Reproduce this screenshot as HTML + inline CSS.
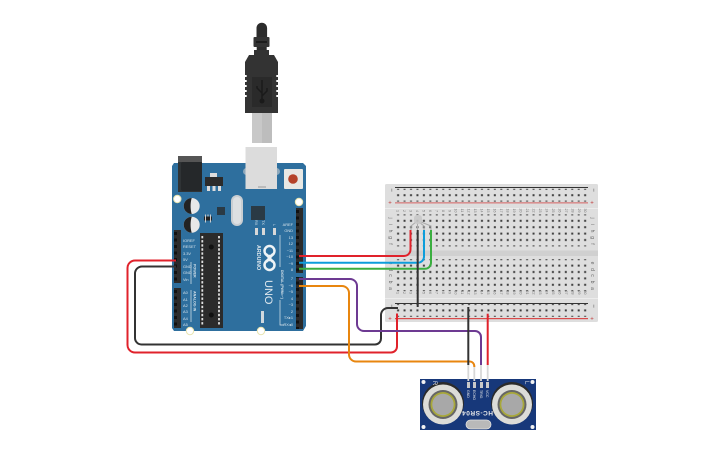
<!DOCTYPE html>
<html><head><meta charset="utf-8"><style>
html,body{margin:0;padding:0;background:#fff;width:725px;height:453px;overflow:hidden}
svg{display:block}
text{font-family:"Liberation Sans",sans-serif}
</style></head><body>
<svg width="725" height="453" viewBox="0 0 725 453" xmlns="http://www.w3.org/2000/svg">
<defs>
<pattern id="h" x="394.8" y="0" width="6.45" height="6.4" patternUnits="userSpaceOnUse"><rect x="2.3" y="2.2" width="2" height="2" fill="#3c3c3c"/></pattern>
<pattern id="pin" x="0" y="208" width="7" height="6.5" patternUnits="userSpaceOnUse"><rect x="0" y="0" width="7" height="6.5" fill="#2b2b2b"/><rect x="2" y="2" width="3" height="3" fill="#111"/></pattern>
</defs>

<!-- USB cable -->
<rect x="252" y="113" width="20" height="30" fill="#c8c8c8"/>
<rect x="262" y="113" width="10" height="30" fill="#bdbdbd"/>
<path d="M256.500 37V28a5.300 5.300 0 0 1 10.600 0V37Z" fill="#2c2c2c"/>
<rect x="253.500" y="37" width="16" height="10" rx="1" fill="#333"/>
<rect x="256" y="41" width="11" height="2" fill="#1c1c1c"/>
<rect x="256.700" y="47" width="10" height="4" fill="#2c2c2c"/>
<rect x="254" y="50" width="15" height="6" fill="#333"/>
<path d="M249 55H274L278 62V113H245V62Z" fill="#333"/>
<path d="M245 75h1.700v2H245ZM245 80h1.700v2H245ZM245 85h1.700v2H245ZM245 90h1.700v2H245ZM245 95h1.700v2H245ZM278 75h-1.700v2H278ZM278 80h-1.700v2H278ZM278 85h-1.700v2H278ZM278 90h-1.700v2H278ZM278 95h-1.700v2H278Z" fill="#fff"/>
<rect x="252" y="77" width="20" height="30" fill="#2a2a2a"/>
<path d="M262 80V101M262 93L257 88V86M262 96L267 91V88" stroke="#1a1a1a" stroke-width="1.500" fill="none"/>
<circle cx="262" cy="101" r="2.500" fill="#1a1a1a"/>

<!-- Arduino -->
<path d="M174 163H303L306 166V326L303 331H174L172 328V166Z" fill="#2e6f9e"/>
<rect x="178" y="157" width="24" height="35" fill="#2f3335"/>
<rect x="178" y="156" width="24" height="6" fill="#555"/>
<rect x="181" y="162" width="21" height="29" rx="2" fill="#25282a"/>
<rect x="243" y="168" width="37" height="7" rx="3.500" fill="#cfcfcf" opacity=".6"/>
<rect x="245.500" y="147" width="31.500" height="42" fill="#dcdcdc"/>
<rect x="258" y="186" width="8" height="2" fill="#bbb"/>
<rect x="284" y="169" width="19" height="20" rx="1" fill="#e8e8e4"/>
<circle cx="293" cy="179" r="4.800" fill="#b5432a"/>
<rect x="210" y="173" width="7" height="4" fill="#ddd"/>
<rect x="205" y="177" width="18" height="9" fill="#2b2b2b"/>
<rect x="207" y="186" width="3" height="5" fill="#ddd"/><rect x="212.500" y="186" width="3" height="5" fill="#ddd"/><rect x="218" y="186" width="3" height="5" fill="#ddd"/>
<circle cx="191.700" cy="206" r="8" fill="#e8e8e8"/>
<path d="M191.700 198a8 8 0 0 0 0 16c-1.500-5-1.500-11 0-16Z" fill="#222"/>
<circle cx="191.700" cy="224.700" r="8" fill="#e8e8e8"/>
<path d="M191.700 216.700a8 8 0 0 0 0 16c-1.500-5-1.500-11 0-16Z" fill="#222"/>
<rect x="231" y="195" width="12" height="31" rx="6" fill="#c9ced2"/>
<rect x="233" y="197" width="8" height="27" rx="4" fill="#dde0e2"/>
<rect x="217" y="207" width="8" height="8" fill="#2a3a45"/>
<rect x="251" y="206" width="14" height="14" fill="#2a3a45"/>
<rect x="204" y="216.500" width="8" height="4" fill="#222"/>
<rect x="205" y="214.500" width="1" height="8" fill="#ccc"/><rect x="207.500" y="214.500" width="1" height="2" fill="#ccc"/><rect x="210" y="214.500" width="1" height="8" fill="#ccc"/>
<rect x="255" y="228" width="3" height="7" fill="#d8d8d8"/><rect x="262" y="228" width="3" height="7" fill="#d8d8d8"/><rect x="273" y="228" width="3" height="7" fill="#d8d8d8"/>

<rect x="200" y="233" width="23" height="95" fill="#2b2b2b"/>
<path d="M202.300 236V325M219 236V325" stroke="#e0e0e0" stroke-width="1.800" stroke-dasharray="2.400 1.700" fill="none"/>
<circle cx="211.300" cy="247" r="2.500" fill="#111"/><circle cx="211.300" cy="315" r="2.500" fill="#111"/>

<rect x="296" y="208" width="7" height="65" fill="url(#pin)"/>
<rect x="296" y="277" width="7" height="52" fill="url(#pin)"/>
<g transform="translate(-122 22)"><rect x="296" y="208" width="7" height="53" fill="url(#pin)"/></g>
<g transform="translate(-122 80)"><rect x="296" y="208" width="7" height="40" fill="url(#pin)"/></g>

<circle cx="177.300" cy="199" r="3.700" fill="#fff" stroke="#e8e4b0"/>
<circle cx="299" cy="202" r="3.700" fill="#fff" stroke="#e8e4b0"/>
<circle cx="190" cy="331" r="3.700" fill="#fff" stroke="#e8e4b0"/>
<circle cx="261" cy="331" r="3.700" fill="#fff" stroke="#e8e4b0"/>
<rect x="261" y="311" width="3" height="12" fill="#cfd8de"/>

<g font-size="3.900" fill="#d5e2ea">
<text x="183" y="242">IOREF</text><text x="183" y="248">RESET</text><text x="183" y="255">3.3V</text><text x="183" y="261">5V</text><text x="183" y="268">GND</text><text x="183" y="274">GND</text><text x="183" y="281">Vin</text>
<text x="183" y="294">A0</text><text x="183" y="301">A1</text><text x="183" y="307">A2</text><text x="183" y="313">A3</text><text x="183" y="320">A4</text><text x="183" y="326">A5</text>
<g text-anchor="end">
<text x="293" y="226">AREF</text><text x="293" y="232">GND</text><text x="293" y="239">13</text><text x="293" y="245">12</text><text x="293" y="252">~11</text><text x="293" y="258">~10</text><text x="293" y="265">~9</text><text x="293" y="271">8</text><text x="293" y="280">7</text><text x="293" y="287">~6</text><text x="293" y="293">~5</text><text x="293" y="300">4</text><text x="293" y="306">~3</text><text x="293" y="313">2</text><text x="293" y="319">TX▸1</text><text x="293" y="326">RX◂0</text>
</g>
<text transform="translate(193.500 264) rotate(90)" font-size="3.600" font-weight="bold">POWER</text>
<text transform="translate(193.500 291) rotate(90)" font-size="3.600" font-weight="bold">ANALOG IN</text>
<text transform="translate(281 270) rotate(90)" font-size="3.400" font-weight="bold">DIGITAL (PWM=~)</text>
<text transform="translate(255 220) rotate(90)">RX</text>
<text transform="translate(262 220) rotate(90)">TX</text>
<text transform="translate(273 224) rotate(90)">L</text>
</g>
<path d="M280 235V267M280 300V325H284M191 284V262M191 322V290" stroke="#dfe8ee" stroke-width=".7" fill="none"/>
<text transform="translate(257 245) rotate(90)" font-size="5.400" font-weight="bold" fill="#dfe8ee">ARDUINO</text>
<g fill="none" stroke="#eef3f6" stroke-width="2.500"><circle cx="269.500" cy="251" r="5"/><circle cx="269.500" cy="265" r="5"/></g>
<path d="M266 254L273 262M273 254L266 262" stroke="#eef3f6" stroke-width="2.500"/>
<text transform="translate(265 280) rotate(90)" font-size="11" fill="#dfe8ee">UNO</text>

<!-- Breadboard -->
<rect x="385" y="184" width="213" height="138" rx="1.500" fill="#dedede"/>
<rect x="385" y="208" width="213" height="1" fill="#ececec"/>
<rect x="385" y="250.500" width="213" height="5.500" fill="#d0d0d0"/>
<rect x="385" y="298" width="213" height="1" fill="#ececec"/>
<rect x="395" y="187" width="193" height="1" fill="#333"/>
<rect x="395" y="202" width="193" height="1.600" fill="#d89090"/>
<rect x="395" y="303" width="193" height="1" fill="#333"/>
<rect x="395" y="318" width="193" height="1.200" fill="#d84a4a"/>
<g font-size="6" fill="#444" text-anchor="middle">
<text transform="translate(390 190) rotate(90)">−</text><text transform="translate(592 190) rotate(90)">−</text><text transform="translate(390 306) rotate(90)">−</text><text transform="translate(592 306) rotate(90)">−</text>
</g>
<g font-size="6" fill="#c03a3a" text-anchor="middle">
<text x="390" y="204.500">+</text><text x="592" y="204.500">+</text><text x="390" y="320.500">+</text><text x="592" y="320.500">+</text>
</g>
<rect x="394.800" y="188.800" width="193.500" height="12.800" fill="url(#h)"/>
<rect x="394.800" y="214.400" width="193.500" height="32" fill="url(#h)"/>
<rect x="394.800" y="259.200" width="193.500" height="32" fill="url(#h)"/>
<rect x="394.800" y="304" width="193.500" height="12.800" fill="url(#h)"/>
<g font-size="3.600" fill="#777" transform="rotate(90)">
<g id="n"><text x="210" y="-396.500">1</text><text x="210" y="-403">2</text><text x="210" y="-409.500">3</text><text x="210" y="-416">4</text><text x="210" y="-422.500">5</text><text x="210" y="-429">6</text><text x="210" y="-435.500">7</text><text x="210" y="-442">8</text><text x="210" y="-448.500">9</text><text x="208.500" y="-454.500">10</text><text x="208.500" y="-461">11</text><text x="208.500" y="-467.500">12</text><text x="208.500" y="-474">13</text><text x="208.500" y="-480.500">14</text><text x="208.500" y="-487">15</text><text x="208.500" y="-493.500">16</text><text x="208.500" y="-500">17</text><text x="208.500" y="-506.500">18</text><text x="208.500" y="-513">19</text><text x="208.500" y="-519.500">20</text><text x="208.500" y="-526">21</text><text x="208.500" y="-532.500">22</text><text x="208.500" y="-539">23</text><text x="208.500" y="-545.500">24</text><text x="208.500" y="-552">25</text><text x="208.500" y="-558.500">26</text><text x="208.500" y="-565">27</text><text x="208.500" y="-571.500">28</text><text x="208.500" y="-578">29</text><text x="208.500" y="-584">30</text></g>
<g><text x="292" y="-396.500">1</text><text x="292" y="-403">2</text><text x="292" y="-409.500">3</text><text x="292" y="-416">4</text><text x="292" y="-422.500">5</text><text x="292" y="-429">6</text><text x="292" y="-435.500">7</text><text x="292" y="-442">8</text><text x="292" y="-448.500">9</text><text x="290.500" y="-454.500">10</text><text x="290.500" y="-461">11</text><text x="290.500" y="-467.500">12</text><text x="290.500" y="-474">13</text><text x="290.500" y="-480.500">14</text><text x="290.500" y="-487">15</text><text x="290.500" y="-493.500">16</text><text x="290.500" y="-500">17</text><text x="290.500" y="-506.500">18</text><text x="290.500" y="-513">19</text><text x="290.500" y="-519.500">20</text><text x="290.500" y="-526">21</text><text x="290.500" y="-532.500">22</text><text x="290.500" y="-539">23</text><text x="290.500" y="-545.500">24</text><text x="290.500" y="-552">25</text><text x="290.500" y="-558.500">26</text><text x="290.500" y="-565">27</text><text x="290.500" y="-571.500">28</text><text x="290.500" y="-578">29</text><text x="290.500" y="-584">30</text></g>
</g>
<g font-size="5" fill="#666" text-anchor="middle" transform="rotate(90)">
<text x="218" y="-389">j</text><text x="224.500" y="-389">i</text><text x="231" y="-389">h</text><text x="237.500" y="-389">g</text><text x="244" y="-389">f</text>
<text x="263" y="-389">e</text><text x="269.500" y="-389">d</text><text x="275.500" y="-389">c</text><text x="282" y="-389">b</text><text x="288.500" y="-389">a</text>
<text x="218" y="-591">j</text><text x="224.500" y="-591">i</text><text x="231" y="-591">h</text><text x="237.500" y="-591">g</text><text x="244" y="-591">f</text>
<text x="263" y="-591">e</text><text x="269.500" y="-591">d</text><text x="275.500" y="-591">c</text><text x="282" y="-591">b</text><text x="288.500" y="-591">a</text>
</g>

<!-- RGB LED -->
<path d="M411 230V226L416 222M417.500 230V222M424 230V226L419 222M431 230V226L421 222" stroke="#aaa" stroke-width="1" fill="none"/>
<rect x="414" y="215" width="8" height="9" rx="3" fill="#c8c8c8" opacity=".9"/>

<!-- Sensor -->
<rect x="420" y="379" width="116" height="51" fill="#17387a"/>
<g fill="#f2f2f2"><circle cx="423.500" cy="382" r="2"/><circle cx="532.500" cy="382" r="2"/><circle cx="423.500" cy="427" r="2"/><circle cx="532.500" cy="427" r="2"/></g>
<g>
<circle cx="443" cy="403" r="21" fill="#2b2b2b"/><circle cx="443" cy="404.500" r="20" fill="#dcdcd8"/><circle cx="443" cy="404.500" r="14.500" fill="#666"/><circle cx="443" cy="404.500" r="12.500" fill="#a8a83a"/><circle cx="443" cy="404.500" r="10.700" fill="#a8a8a8"/>
<circle cx="512" cy="403" r="21" fill="#2b2b2b"/><circle cx="512" cy="404.500" r="20" fill="#dcdcd8"/><circle cx="512" cy="404.500" r="14.500" fill="#666"/><circle cx="512" cy="404.500" r="12.500" fill="#a8a83a"/><circle cx="512" cy="404.500" r="10.700" fill="#a8a8a8"/>
</g>
<rect x="466" y="420" width="25" height="9" rx="4.500" fill="#b9b9b9" stroke="#e0e0e0" stroke-width=".8"/>
<g fill="#c9c9c9"><rect x="467" y="382" width="3" height="6"/><rect x="473" y="382" width="3" height="6"/><rect x="480" y="382" width="3" height="6"/><rect x="486" y="382" width="3" height="6"/></g>
<g font-size="3.500" fill="#e8e8e8"><text transform="translate(467 390) rotate(90)">GND</text><text transform="translate(473 390) rotate(90)">ECHO</text><text transform="translate(480 390) rotate(90)">TRIG</text><text transform="translate(486 390) rotate(90)">VCC</text></g>
<text transform="translate(493 411) rotate(180)" font-size="6.500" font-weight="bold" fill="#e8e8e8" letter-spacing=".5">HC-SR04</text>
<text transform="translate(433 381) rotate(90)" font-size="6" fill="#e8e8e8">R</text><text transform="translate(525 381) rotate(90)" font-size="6" fill="#e8e8e8">L</text>
<g stroke="#d8d8d8" stroke-width="1.800"><path d="M468.300 365V381M474.300 365V381M481 365V381M487.700 365V381"/></g>

<!-- Wires -->
<g fill="none" stroke-width="2" stroke-linejoin="round">
<path d="M176 260.500H135a7.500 7.500 0 0 0-7.500 7.500V345a7.500 7.500 0 0 0 7.500 7.500H391a6 6 0 0 0 6-6V313.500" stroke="#e0222b"/>
<path d="M176 266.500H142a7 7 0 0 0-7 7V338a6.500 6.500 0 0 0 6.500 6.500H375a6 6 0 0 0 6-6V315a7 7 0 0 1 7-7H398" stroke="#333"/>
<path d="M299 256H404a6.500 6.500 0 0 0 6.500-6.500V230" stroke="#e0222b"/>
<path d="M299 262.700H418a6 6 0 0 0 6-6V230" stroke="#0d9ddb"/>
<path d="M299 268.800H425a6 6 0 0 0 6-6V230" stroke="#3aae3f"/>
<path d="M299 279H350a7 7 0 0 1 7 7V324a7 7 0 0 0 7 7H475a6 6 0 0 1 6 6V365" stroke="#6d3a92"/>
<path d="M299 286H342a7 7 0 0 1 7 7V354.500a7 7 0 0 0 7 7H470a4.500 4.500 0 0 1 4.300 4.500V367" stroke="#e8860f"/>
<path d="M417.700 230V307" stroke="#333"/>
<path d="M468.300 307V365" stroke="#333"/>
<path d="M487.700 313.700V365" stroke="#e0222b"/>
</g>
</svg>
</body></html>
